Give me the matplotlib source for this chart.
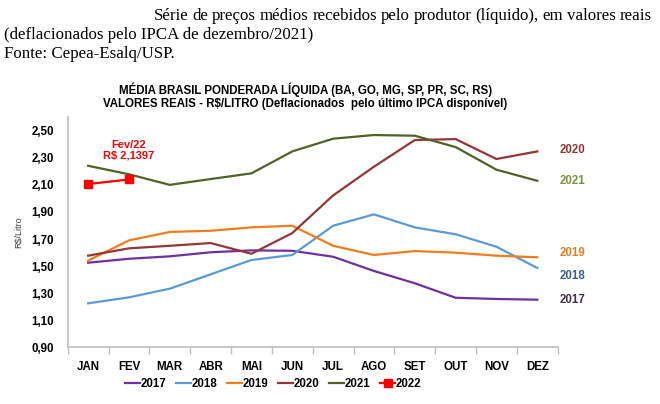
import matplotlib.pyplot as plt
from matplotlib.ticker import FixedLocator, NullFormatter

meses = ['JAN', 'FEV', 'MAR', 'ABR', 'MAI', 'JUN', 'JUL', 'AGO', 'SET', 'OUT', 'NOV', 'DEZ']

p2017 = [1.525, 1.554, 1.572, 1.602, 1.616, 1.613, 1.569, 1.464, 1.373, 1.266, 1.257, 1.252]
p2018 = [1.225, 1.269, 1.333, 1.439, 1.545, 1.582, 1.798, 1.882, 1.786, 1.735, 1.643, 1.486]
p2019 = [1.540, 1.690, 1.752, 1.761, 1.786, 1.798, 1.650, 1.582, 1.611, 1.599, 1.577, 1.565]
p2020 = [1.577, 1.631, 1.650, 1.670, 1.591, 1.744, 2.022, 2.234, 2.431, 2.438, 2.291, 2.347]
p2021 = [2.241, 2.178, 2.100, 2.143, 2.185, 2.347, 2.441, 2.468, 2.463, 2.379, 2.212, 2.130]
p2022 = [2.106, 2.1397]

# cores das linhas e dos rótulos no fim de cada série
series = [
    ('2017', p2017, '#7030a0', '#403152'),
    ('2018', p2018, '#5b9bd5', '#376092'),
    ('2019', p2019, '#f07c1c', '#f07c1c'),
    ('2020', p2020, '#953735', '#953735'),
    ('2021', p2021, '#4f6228', '#77933c'),
]

fig = plt.figure(figsize=(6.6, 4.04), dpi=100)
ax = fig.add_axes([0.1026, 0.1403, 0.7424, 0.5697])

x = list(range(len(meses)))
for nome, vals, cor, _ in series:
    ax.plot(x, vals, color=cor, linewidth=1.6, label=nome)
ax.plot(x[:len(p2022)], p2022, color='#ff0000', linewidth=1.6, marker='s',
        markersize=6, label='2022')

# rótulos no fim das linhas
rot_y = {'2020': 2.36, '2021': 2.13, '2019': 1.60, '2018': 1.43, '2017': 1.25}
for nome, vals, _, cor_txt in series:
    ax.text(11.55, rot_y[nome], nome, color=cor_txt, fontsize=8.3,
            fontweight='bold', va='center', ha='left', family='Liberation Sans')

ax.text(1.0, 2.355, 'Fev/22\nR$ 2,1397', color='#ff0000', fontsize=8,
        fontweight='bold', ha='center', va='center', linespacing=1.0,
        family='Liberation Sans')

ax.set_xlim(-0.5, 11.5)
ax.set_ylim(0.9, 2.6)
yt = [0.9 + 0.2 * i for i in range(9)]
ax.set_yticks(yt)
ax.set_yticklabels([f'{v:.2f}'.replace('.', ',') for v in yt])
ax.set_xticks(x)
ax.set_xticklabels(meses)
ax.xaxis.set_minor_locator(FixedLocator([i - 0.5 for i in range(13)]))
ax.xaxis.set_minor_formatter(NullFormatter())
ax.tick_params(axis='x', which='major', length=0, pad=10)
ax.tick_params(axis='x', which='minor', length=5, color='#bfbfbf', width=1)
ax.tick_params(axis='y', length=0, pad=10)
for lbl in ax.get_xticklabels() + ax.get_yticklabels():
    lbl.set_fontsize(8.3)
    lbl.set_fontweight('bold')
    lbl.set_family('Liberation Sans')

for s in ['top', 'right']:
    ax.spines[s].set_visible(False)
for s in ['left', 'bottom']:
    ax.spines[s].set_color('#bfbfbf')
    ax.spines[s].set_linewidth(1.2)

ax.set_ylabel('R$/Litro', fontsize=6.5, color='#404040', family='Liberation Sans', labelpad=6)

leg = fig.legend(loc='center', bbox_to_anchor=(0.414, 0.05), ncol=6, frameon=False,
                 handlelength=1.3, handletextpad=0.05, columnspacing=0.85,
                 prop={'family': 'Liberation Sans', 'weight': 'bold', 'size': 8.3})

# títulos
fig.text(0.463, 0.777, 'MÉDIA BRASIL PONDERADA LÍQUIDA (BA, GO, MG, SP, PR, SC, RS)',
         ha='center', va='center', fontsize=8.3, fontweight='bold', family='Liberation Sans')
fig.text(0.463, 0.743, 'VALORES REAIS - R$/LITRO (Deflacionados  pelo último IPCA disponível)',
         ha='center', va='center', fontsize=8.3, fontweight='bold', family='Liberation Sans')

# texto acima do gráfico (primeira linha justificada entre x0 e x1)
linha1 = 'Série de preços médios recebidos pelo produtor (líquido), em valores reais'.split()
x0, x1 = 0.233, 0.988
fig.canvas.draw()
ren = fig.canvas.get_renderer()
larg = []
for w in linha1:
    t = fig.text(0, 0, w, fontsize=12.2, family='Liberation Serif')
    larg.append(t.get_window_extent(ren).width / fig.bbox.width)
    t.remove()
gap = (x1 - x0 - sum(larg)) / (len(linha1) - 1)
pos = x0
for w, l in zip(linha1, larg):
    fig.text(pos, 0.96, w, ha='left', va='center', fontsize=12.2, family='Liberation Serif')
    pos += l + gap
fig.text(0.006, 0.913, '(deflacionados pelo IPCA de dezembro/2021)',
         ha='left', va='center', fontsize=12.2, family='Liberation Serif')
fig.text(0.006, 0.867, 'Fonte: Cepea-Esalq/USP.',
         ha='left', va='center', fontsize=12.2, family='Liberation Serif')

fig.savefig('out.png', dpi=100)
